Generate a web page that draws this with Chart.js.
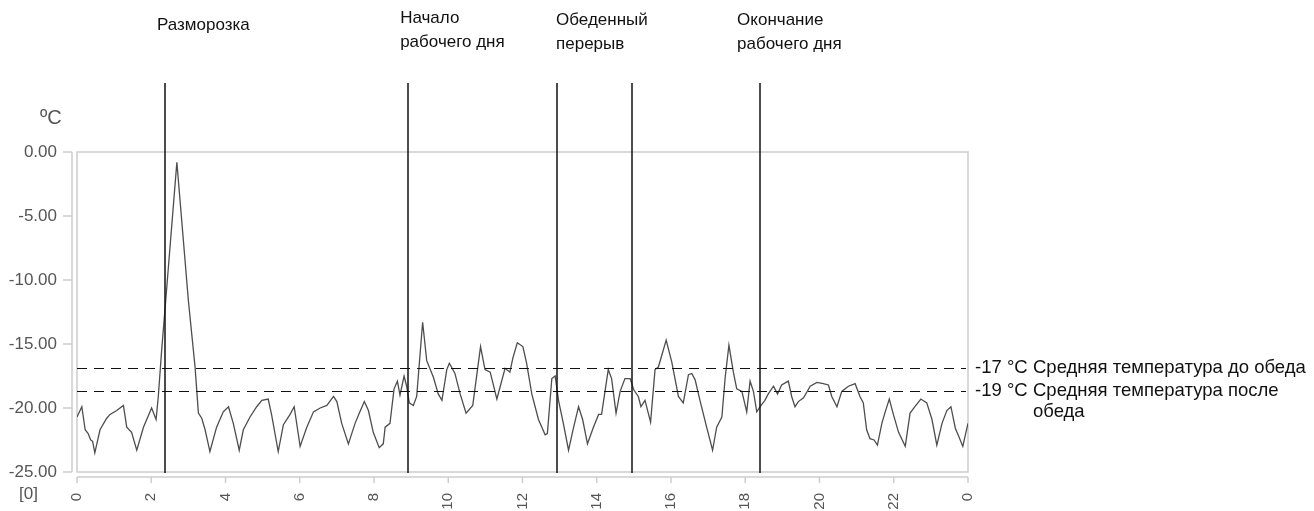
<!DOCTYPE html>
<html>
<head>
<meta charset="utf-8">
<script src="https://cdn.jsdelivr.net/npm/chart.js@4.4.1/dist/chart.umd.min.js"></script>
<style>
  html, body { margin: 0; padding: 0; background: #fff; }
  canvas { display: block; }
</style>
</head>
<body>
<canvas id="tempChart" width="1314" height="511"></canvas>
<script>
// hours since midnight and temperature (°C)
const hours = [
  0.00, 0.13, 0.22, 0.30, 0.37, 0.42, 0.48, 0.62, 0.80, 0.89, 1.07, 1.25, 1.34, 1.47, 1.61, 1.79,
  2.01, 2.13, 2.19, 2.28, 2.37, 2.69, 3.00, 3.18, 3.27, 3.36, 3.45, 3.58, 3.76, 3.94,
  4.08, 4.21, 4.37, 4.48, 4.66, 4.84, 4.98, 5.15, 5.24, 5.42, 5.56, 5.74, 5.85,
  6.01, 6.19, 6.37, 6.55, 6.73, 6.91, 7.00, 7.13, 7.31, 7.49, 7.62, 7.74, 7.85, 7.98,
  8.14, 8.25, 8.30, 8.43, 8.54, 8.63, 8.70, 8.81, 8.88, 8.95, 9.06, 9.15, 9.31, 9.42, 9.60, 9.73, 9.83, 9.96,
  10.03, 10.18, 10.32, 10.48, 10.66, 10.87, 10.99, 11.13, 11.31, 11.53, 11.66, 11.74, 11.86,
  12.01, 12.11, 12.25, 12.43, 12.61, 12.67, 12.79, 12.88, 12.97, 13.10, 13.24, 13.37, 13.51, 13.62, 13.75, 13.91,
  14.05, 14.13, 14.31, 14.40, 14.52, 14.63, 14.76, 14.90, 15.00, 15.12, 15.19, 15.30, 15.45, 15.57, 15.66, 15.87,
  16.02, 16.20, 16.33, 16.47, 16.56, 16.65, 16.78, 16.96, 17.12, 17.23, 17.37, 17.46, 17.56, 17.68, 17.77, 17.91,
  18.04, 18.13, 18.22, 18.31, 18.40, 18.53, 18.62, 18.76, 18.87, 18.98, 19.16, 19.25, 19.34, 19.43, 19.57, 19.75, 19.93,
  20.10, 20.24, 20.33, 20.47, 20.60, 20.78, 20.96, 21.09, 21.18, 21.27, 21.36, 21.47, 21.56, 21.68, 21.77, 21.88, 21.99,
  22.13, 22.31, 22.44, 22.57, 22.73, 22.89, 23.03, 23.16, 23.30, 23.43, 23.54, 23.66, 23.75, 23.86, 24.00
];
const temps = [
  -20.7, -19.9, -21.7, -22.0, -22.5, -22.6, -23.5, -21.7, -20.8, -20.5, -20.2, -19.8, -21.5, -21.9, -23.3, -21.5,
  -20.0, -20.9, -19.1, -15.5, -12.3, -0.8, -11.6, -16.8, -20.4, -20.8, -21.7, -23.4, -21.5, -20.3,
  -19.9, -21.2, -23.3, -21.7, -20.7, -19.9, -19.4, -19.3, -20.5, -23.4, -21.3, -20.5, -19.9,
  -23.0, -21.5, -20.3, -20.0, -19.8, -19.1, -19.5, -21.2, -22.8, -21.2, -20.3, -19.5, -20.2, -21.9,
  -23.1, -22.8, -21.5, -21.2, -18.5, -17.9, -19.0, -17.5, -18.3, -19.6, -19.8, -19.1, -13.3, -16.3, -17.6, -18.9, -19.4, -17.0,
  -16.5, -17.3, -18.9, -20.4, -19.8, -15.2, -17.0, -17.2, -19.3, -16.9, -17.2, -16.1, -14.9,
  -15.2, -16.5, -18.9, -20.9, -22.1, -22.0, -17.7, -17.5, -19.4, -21.2, -23.3, -21.6, -19.9, -20.9, -22.8, -21.5,
  -20.5, -20.5, -17.0, -17.7, -20.4, -18.7, -17.7, -17.7, -18.6, -19.1, -19.9, -19.4, -21.1, -17.0, -16.8, -14.7,
  -16.4, -19.1, -19.6, -17.4, -17.3, -17.8, -19.4, -21.5, -23.3, -21.5, -20.7, -17.6, -15.1, -17.2, -18.5, -18.7,
  -20.3, -17.9, -18.7, -20.3, -19.9, -19.4, -18.9, -18.3, -18.9, -18.2, -17.9, -19.1, -19.9, -19.5, -19.2, -18.3, -18.0,
  -18.1, -18.2, -19.1, -19.9, -18.7, -18.3, -18.1, -19.1, -19.6, -21.7, -22.4, -22.5, -22.9, -21.2, -20.3, -19.3, -20.5,
  -21.9, -23.0, -20.4, -19.9, -19.3, -19.6, -20.9, -22.9, -21.2, -20.2, -19.9, -21.6, -22.2, -23.0, -21.2
];

// marked events (vertical lines) and their captions
const eventHours = [2.37, 8.92, 12.93, 14.95, 18.40];
const eventCaptions = [
  { hour: 2.37, dx: -8, lines: ['Разморозка'], top: 25 },
  { hour: 8.92, dx: -8, lines: ['Начало', 'рабочего дня'], top: 18 },
  { hour: 12.93, dx: -1, lines: ['Обеденный', 'перерыв'], top: 20 },
  { hour: 18.40, dx: -23, lines: ['Окончание', 'рабочего дня'], top: 20 }
];

// average temperature levels (dashed lines)
const avgLevels = [-16.9, -18.7];
const avgValues = ['-17 °C', '-19 °C'];
const avgTexts = [['Средняя температура до обеда'], ['Средняя температура после', 'обеда']];

const FONT = '"Liberation Sans", Arial, sans-serif';

const overlay = {
  id: 'overlay',
  beforeDatasetsDraw(chart) {
    const { ctx, chartArea: a, scales: { x, y } } = chart;
    ctx.save();
    // plot frame
    ctx.strokeStyle = '#cdcdcd';
    ctx.lineWidth = 1.5;
    ctx.strokeRect(a.left, a.top, a.right - a.left, a.bottom - a.top);
    // detached y axis with tick marks
    const ax = a.left - 5;
    ctx.beginPath();
    ctx.moveTo(ax, a.top);
    ctx.lineTo(ax, a.bottom);
    y.ticks.forEach(t => {
      const py = y.getPixelForValue(t.value);
      ctx.moveTo(ax - 9, py);
      ctx.lineTo(ax, py);
    });
    // detached x axis with tick marks
    const ay = a.bottom + 5;
    ctx.moveTo(a.left, ay);
    ctx.lineTo(a.right, ay);
    x.ticks.forEach(t => {
      const px = x.getPixelForValue(t.value);
      ctx.moveTo(px, ay);
      ctx.lineTo(px, ay + 6);
    });
    ctx.stroke();

    // unit labels
    ctx.fillStyle = '#555';
    ctx.font = '20px ' + FONT;
    ctx.textAlign = 'left';
    ctx.textBaseline = 'middle';
    ctx.fillText('ºC', 40, 118);
    ctx.font = '17px ' + FONT;
    ctx.fillText('[0]', 19, 494);
    ctx.restore();
  },
  afterDatasetsDraw(chart) {
    const { ctx, chartArea: a, scales: { x, y } } = chart;
    ctx.save();
    // dashed average lines
    ctx.strokeStyle = '#111';
    ctx.lineWidth = 1.2;
    ctx.setLineDash([10, 7]);
    avgLevels.forEach(v => {
      const py = Math.round(y.getPixelForValue(v)) + 0.5;
      ctx.beginPath();
      ctx.moveTo(a.left, py);
      ctx.lineTo(a.right - 2, py);
      ctx.stroke();
    });
    ctx.setLineDash([]);

    // event lines
    ctx.lineWidth = 1.5;
    eventHours.forEach(h => {
      const px = Math.round(x.getPixelForValue(h));
      ctx.beginPath();
      ctx.moveTo(px, 83);
      ctx.lineTo(px, a.bottom + 1);
      ctx.stroke();
    });

    // captions over event lines
    ctx.fillStyle = '#111';
    ctx.font = '17px ' + FONT;
    ctx.textAlign = 'left';
    ctx.textBaseline = 'middle';
    eventCaptions.forEach(c => {
      const px = x.getPixelForValue(c.hour) + c.dx;
      c.lines.forEach((s, i) => ctx.fillText(s, px, c.top + i * 24));
    });

    // labels of average lines
    ctx.font = '18.5px ' + FONT;
    avgLevels.forEach((v, i) => {
      const py = y.getPixelForValue(v);
      ctx.fillText(avgValues[i], a.right + 7, py);
      avgTexts[i].forEach((s, j) => ctx.fillText(s, a.right + 65, py + j * 21));
    });
    ctx.restore();
  }
};

new Chart(document.getElementById('tempChart'), {
  type: 'line',
  data: {
    datasets: [{
      data: hours.map((h, i) => ({ x: h, y: temps[i] })),
      borderColor: '#4d4d4d',
      borderWidth: 1.3,
      pointRadius: 0,
      tension: 0,
      fill: false
    }]
  },
  options: {
    responsive: false,
    devicePixelRatio: 1,
    animation: false,
    layout: { padding: { top: 152, right: 346, left: 0, bottom: 0 } },
    plugins: { legend: { display: false }, tooltip: { enabled: false } },
    scales: {
      x: {
        type: 'linear',
        min: 0,
        max: 24,
        afterFit: s => { s.height = 39; },
        grid: { display: false },
        border: { display: false },
        ticks: {
          stepSize: 2,
          minRotation: 90,
          maxRotation: 90,
          padding: 13,
          color: '#555',
          font: { family: FONT, size: 15 },
          callback: v => (v === 24 ? '0' : String(v))
        }
      },
      y: {
        min: -25,
        max: 0,
        afterFit: s => { s.width = 77; },
        grid: { display: false },
        border: { display: false },
        ticks: {
          stepSize: 5,
          padding: 12,
          color: '#555',
          font: { family: FONT, size: 17 },
          callback: v => Number(v).toFixed(2)
        }
      }
    }
  },
  plugins: [overlay]
});
</script>
</body>
</html>
